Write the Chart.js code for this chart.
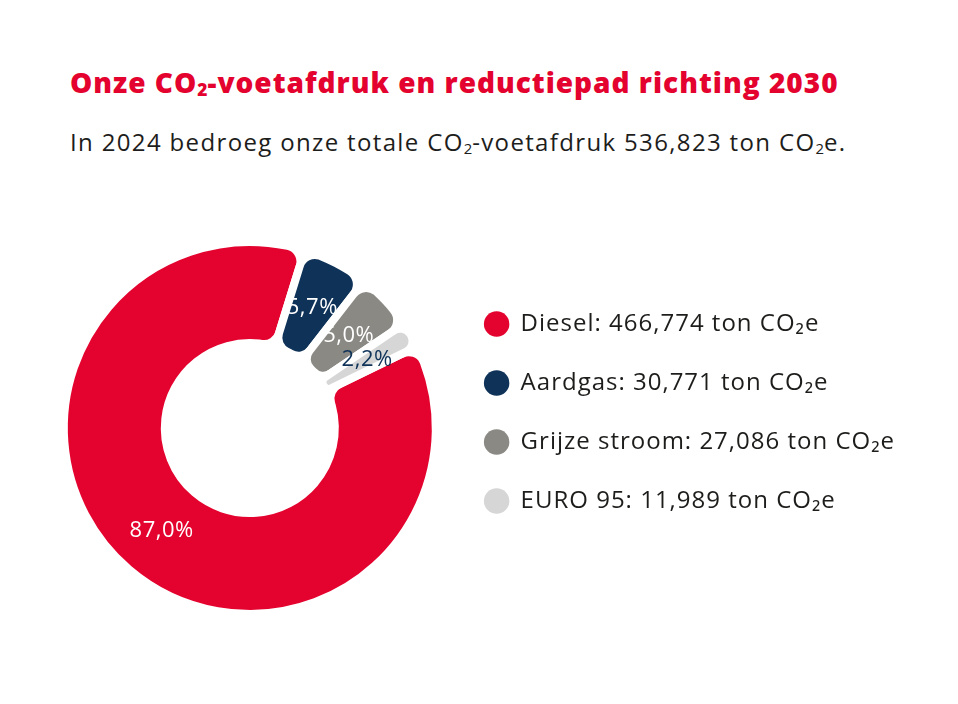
<!DOCTYPE html>
<html lang="nl">
<head>
<meta charset="utf-8">
<script src="https://cdn.jsdelivr.net/npm/chart.js@4.4.1/dist/chart.umd.min.js"></script>
<style>
  body { margin: 0; background: #fff; width: 958px; height: 704px; overflow: hidden; font-family: "Open Sans", sans-serif; }
  h1 { position: absolute; left: 70px; top: 68px; margin: 0; font-size: 28px; line-height: 28px; font-weight: 800; letter-spacing: 1px; color: #e4032e; white-space: nowrap; }
  .sub { position: absolute; left: 70px; top: 130px; margin: 0; font-size: 24px; line-height: 24px; letter-spacing: 1.35px; color: #1d1d1b; white-space: nowrap; }
  sub { font-size: 0.62em; line-height: 0; vertical-align: -0.18em; letter-spacing: 0; }
  #wrap { position: absolute; left: 0; top: 180px; width: 958px; height: 480px; }
</style>
</head>
<body>
<h1>Onze CO<sub>2</sub>-voetafdruk en reductiepad richting 2030</h1>
<p class="sub">In 2024 bedroeg onze totale CO<sub>2</sub>-voetafdruk 536,823 ton CO<sub>2</sub>e.</p>
<div id="wrap"><canvas id="donut" width="958" height="480"></canvas></div>

<script>
// data from the legend (ton CO2e, 2024)
const categories = ['Diesel', 'Aardgas', 'Grijze stroom', 'EURO 95'];
const emissions = [466774, 30771, 27086, 11989];
const totalEmission = 536823;

const sliceColors = ['#e4032e', '#0e3258', '#8a8984', '#d6d6d6'];
const labelColors = ['#ffffff', '#ffffff', '#ffffff', '#0e3258'];

let shareText = (v) => (v / totalEmission * 100).toFixed(1).replace('.', ',') + '%';

// wider spacing for the canvas text (the original font is wider)
const spacing = {
    id: 'spacing',
    beforeLayout(chart) { chart.ctx.letterSpacing = '1px'; },
    beforeDraw(chart) { chart.ctx.letterSpacing = '1px'; }
};

// percentages inside the slices
const sliceLabels = {
    id: 'sliceLabels',
    afterDatasetsDraw(chart) {
        const ctx = chart.ctx;
        const arcs = chart.getDatasetMeta(0).data;
        ctx.save();
        ctx.font = '400 22px "Open Sans"';
        ctx.letterSpacing = '0.5px';
        ctx.textAlign = 'center';
        ctx.textBaseline = 'middle';
        arcs.forEach((arc, i) => {
            const p = arc.tooltipPosition();
            ctx.fillStyle = labelColors[i];
            ctx.fillText(shareText(emissions[i]), p.x, p.y);
        });
        ctx.restore();
    }
};

const data = {
    labels: categories,
    datasets: [
        {
            data: emissions,
            backgroundColor: sliceColors,
            borderColor: '#ffffff',
            borderWidth: 8,
            borderRadius: 16,
            borderJoinStyle: 'round',
            clip: false
        }
    ]
};

const config = {
    type: 'doughnut',
    data: data,
    options: {
        responsive: false,
        animation: false,
        rotation: 64,
        radius: 186,
        cutout: '45.7%',
        layout: { padding: { left: 50, right: 53, top: 97, bottom: 81 } },
        plugins: {
            tooltip: { enabled: false },
            legend: {
                position: 'right',
                align: 'start',
                maxWidth: 600,
                labels: {
                    usePointStyle: true,
                    pointStyle: 'circle',
                    boxWidth: 24,
                    boxHeight: 18,
                    padding: 35,
                    color: '#1d1d1b',
                    font: { family: 'Open Sans', size: 24 },
                    generateLabels: (chart) => categories.map((name, i) => ({
                        text: name + ': ' + emissions[i].toLocaleString('en-US') + ' ton CO\u2082e',
                        fillStyle: sliceColors[i],
                        strokeStyle: sliceColors[i],
                        lineWidth: 0,
                        pointStyle: 'circle',
                        fontColor: '#1d1d1b',
                        hidden: false,
                        index: i
                    }))
                }
            }
        }
    },
    plugins: [spacing, sliceLabels]
};

new Chart(document.getElementById('donut'), config);
</script>
</body>
</html>
